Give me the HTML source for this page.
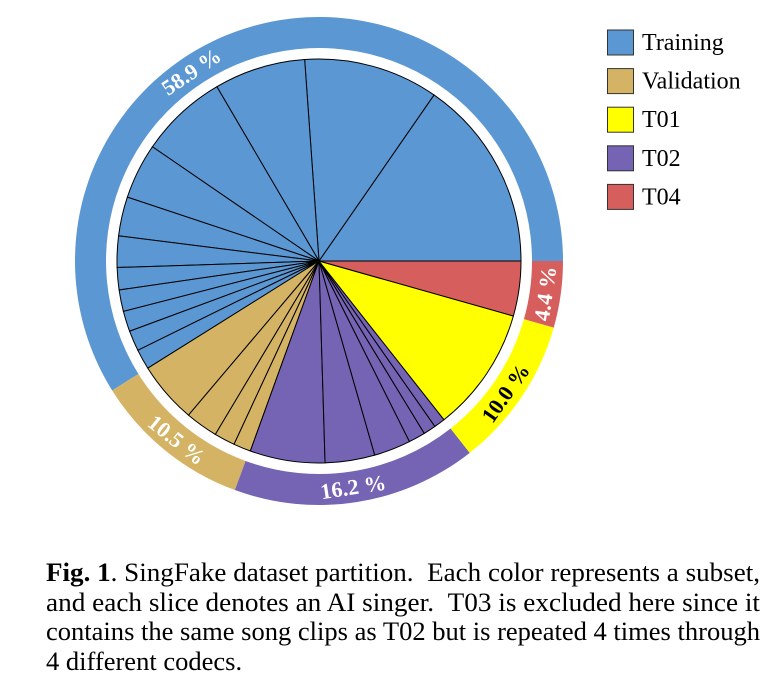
<!DOCTYPE html>
<html><head><meta charset="utf-8"><style>
body{margin:0;background:#fff;width:783px;height:693px;overflow:hidden;position:relative;font-family:"Liberation Serif",serif}
.cap{position:absolute;left:46px;width:714px;font-size:26px;line-height:29.6px;top:558px;color:#000}
.cap div{white-space:nowrap;transform-origin:0 0;width:max-content}
</style></head><body>
<svg id="chart" width="783" height="550" style="position:absolute;left:0;top:0"></svg>
<div class="cap">
<div class="j"><b>Fig. 1</b>. SingFake dataset partition. &nbsp;Each color represents a subset,</div>
<div class="j">and each slice denotes an AI singer. &nbsp;T03 is excluded here since it</div>
<div class="j">contains the same song clips as T02 but is repeated 4 times through</div>
<div class="l">4 different codecs.</div>
</div>
<script>
const subsets=["Training","Validation","T02","T01","T04"];
const colors=["#5b97d2","#d4b464","#7563b4","#ffff00","#d65f5d"];
const ringPct=[58.9,10.5,16.2,10.0,4.4];
const sliceTraining=[55.3,38.8,26.3,25.2,16,11.3,9,6.4,6.2,5.9,5.9,5.8];
const sliceValidation=[17.7,9.4,6,5];
const sliceT02=[21.6,14.3,10.6,4.8,3.6,3.2];
const sliceT01=[36];
const sliceT04=[15.8];
const labelAngle=[124,231.5,278.6,324.7,351.8];
const legendOrder=["Training","Validation","T01","T02","T04"];

const NS="http://www.w3.org/2000/svg";
const svg=document.getElementById('chart');
const cx=319,cy=261,R=202,r1=213,r2=244;
function pt(a,rad){const t=a*Math.PI/180;return [cx+rad*Math.cos(t),cy-rad*Math.sin(t)];}
function mk(tag,attrs){const e=document.createElementNS(NS,tag);for(const k in attrs)e.setAttribute(k,attrs[k]);svg.appendChild(e);return e;}
let tot=ringPct.reduce((a,b)=>a+b,0),a0=0;
ringPct.forEach((p,i)=>{
  const a1=a0+p/tot*360;const large=(a1-a0)>180?1:0;
  const [x1,y1]=pt(a0,r2),[x2,y2]=pt(a1,r2),[x3,y3]=pt(a1,r1),[x4,y4]=pt(a0,r1);
  const e=mk('path',{d:`M${x1},${y1}A${r2},${r2} 0 ${large} 0 ${x2},${y2}L${x3},${y3}A${r1},${r1} 0 ${large} 1 ${x4},${y4}Z`,fill:colors[i]});
  
  
  a0=a1;
});
const groups=[sliceTraining,sliceValidation,sliceT02,sliceT01,sliceT04];
const all=[];groups.forEach((g,gi)=>g.forEach(v=>all.push([v,gi])));
const st=all.reduce((s,x)=>s+x[0],0);a0=0;
all.forEach(([v,gi],k)=>{
  const a1=a0+v/st*360;const large=(a1-a0)>180?1:0;
  const [x1,y1]=pt(a0,R),[x2,y2]=pt(a1,R);
  const e=mk('path',{d:`M${cx},${cy}L${x1},${y1}A${R},${R} 0 ${large} 0 ${x2},${y2}Z`,fill:colors[gi],stroke:'#000','stroke-width':1});
  
  
  a0=a1;
});
ringPct.forEach((p,i)=>{
  const a=labelAngle[i];const [x,y]=pt(a,228.5);
  const rot=(a>180)?270-a:90-a;
  const t=mk('text',{x:x,y:y,'text-anchor':'middle','dominant-baseline':'central',transform:`rotate(${rot} ${x} ${y})`,fill:i==3?'#000':'#fff','font-size':22,'font-weight':'bold','font-family':'Liberation Serif, serif'});
  t.textContent=p.toFixed(1)+' %';
  
  
});
legendOrder.forEach((n,i)=>{
  const y=30+i*38.6;
  const b=mk('rect',{x:607.5,y:y,width:26,height:25,fill:colors[subsets.indexOf(n)],stroke:'#333','stroke-width':1});
  
  
  const t=mk('text',{x:642,y:y+20,'font-size':24,'font-family':'Liberation Serif, serif',fill:'#000'});
  t.textContent=n;
  
  
});
let sc=1;
document.querySelectorAll('.cap .j').forEach(d=>{const w=d.getBoundingClientRect().width;sc=714/w;d.style.transform='scaleX('+sc+')';});
document.querySelectorAll('.cap .l').forEach(d=>{d.style.transform='scaleX('+sc+')';});
</script>
</body></html>
